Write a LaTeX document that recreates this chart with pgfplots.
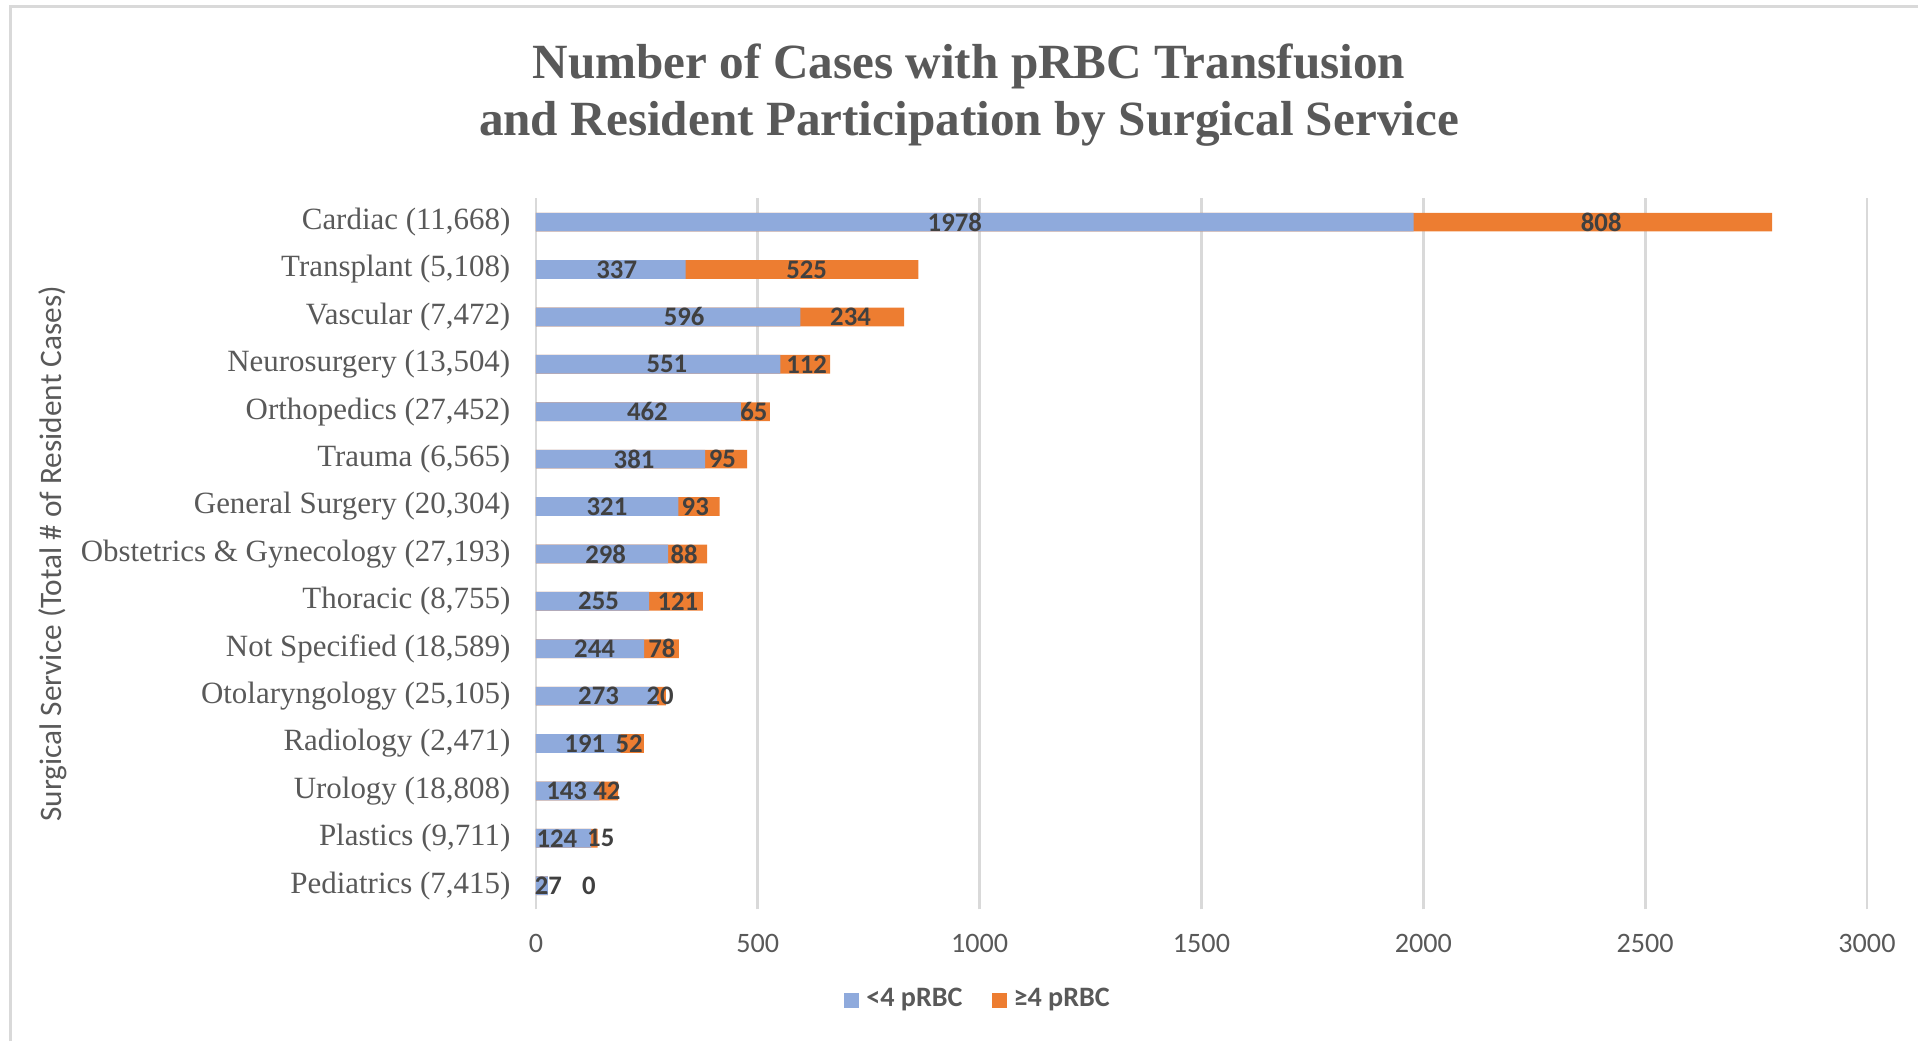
\documentclass[border=0pt]{standalone}
\usepackage{pgfplots}
\pgfplotsset{compat=1.18}
\usepackage{pgfplotstable}
\usepackage{fontspec}
\setmainfont{Liberation Serif}
\newfontfamily\carlito{Carlito}
\definecolor{barblue}{HTML}{8FAADC}
\definecolor{barorange}{HTML}{ED7D31}
\definecolor{txt}{HTML}{595959}
\definecolor{lbl}{HTML}{404040}
\definecolor{gridc}{HTML}{D9D9D9}

% y: category index (0 = bottom), a: <4 pRBC, b: >=4 pRBC, la/lb: label positions
\pgfplotstableread{
y a b la lb
0 27 0 28 119
1 124 15 47 146
2 143 42 69 160
3 191 52 110 210
4 273 20 141 280
5 244 78 132 284
6 255 121 141 320
7 298 88 157 334
8 321 93 160 359
9 381 95 221 420
10 462 65 251 491
11 551 112 295 610
12 596 234 334 709
13 337 525 182 610
14 1978 808 944 2401
}\data

\begin{document}
\begin{tikzpicture}
\path[use as bounding box] (0,0) rectangle (191.8mm,104.1mm);
\draw[gridc, line width=0.3mm] (1.05mm,0) -- (1.05mm,103.45mm) -- (191.8mm,103.45mm);
\begin{axis}[
  at={(53.6mm,13.16mm)}, anchor=south west,
  scale only axis, width=133.1mm, height=71.1mm,
  xmin=0, xmax=3000, ymin=-0.5, ymax=14.5,
  xtick={0,500,...,3000},
  ytick={0,...,14},
  yticklabels={{Pediatrics (7,415)},{Plastics (9,711)},{Urology (18,808)},{Radiology (2,471)},{Otolaryngology (25,105)},{Not Specified (18,589)},{Thoracic (8,755)},{Obstetrics \& Gynecology (27,193)},{General Surgery (20,304)},{Trauma (6,565)},{Orthopedics (27,452)},{Neurosurgery (13,504)},{Vascular (7,472)},{Transplant (5,108)},{Cardiac (11,668)}},
  axis line style={draw=none},
  major tick length=0pt,
  xmajorgrids, major grid style={gridc, line width=0.27mm},
  scaled x ticks=false,
  /pgf/number format/assume math mode=true,
  /pgf/number format/1000 sep={},
  tick label style={text=txt},
  xticklabel style={font=\carlito\fontsize{8}{9.6}\selectfont, anchor=center, inner sep=0pt, yshift=-3.36mm},
  yticklabel style={font=\fontsize{8.8}{10}\selectfont, anchor=east, inner sep=0pt, xshift=-2.5mm},
  every axis y label/.style={at={(rel axis cs:-0.3632,0.5)}, rotate=90, anchor=center},
  ylabel={Surgical Service (Total \# of Resident Cases)},
  ylabel style={font=\carlito\fontsize{8.9}{10}\selectfont, text=txt},
  legend style={at={(rel axis cs:0.334,-0.128)}, anchor=center, draw=none, fill=none,
    legend columns=2, font=\carlito\bfseries\fontsize{8}{9.6}\selectfont, text=txt,
    /tikz/every even column/.append style={column sep=2.2mm}},
  legend image code/.code={\fill[#1, draw=none] (0mm,-0.75mm) rectangle (1.5mm,0.75mm);},
]
\addplot[xbar, bar width=1.87mm, bar shift=0pt, fill=barorange, draw=none, forget plot]
  table[x expr=\thisrow{a}+\thisrow{b}, y=y]{\data};
\addplot[xbar, bar width=1.87mm, bar shift=0pt, fill=barblue, draw=none, forget plot]
  table[x=a, y=y]{\data};
\addplot[draw=none, mark=none, forget plot, nodes near coords, point meta=explicit symbolic,
  every node near coord/.append style={anchor=center, inner sep=0pt, font=\carlito\bfseries\fontsize{7.6}{8}\selectfont, text=lbl}]
  table[x=la, y=y, meta=a]{\data};
\addplot[draw=none, mark=none, forget plot, nodes near coords, point meta=explicit symbolic,
  every node near coord/.append style={anchor=center, inner sep=0pt, font=\carlito\bfseries\fontsize{7.6}{8}\selectfont, text=lbl}]
  table[x=lb, y=y, meta=b]{\data};
\addlegendimage{fill=barblue, draw=none}
\addlegendentry{<4 pRBC}
\addlegendimage{fill=barorange, draw=none}
\addlegendentry{≥4 pRBC}
\end{axis}
\node[anchor=base, font=\bfseries\fontsize{14}{16}\selectfont, text=txt] at (96.9mm,96.26mm) {Number of Cases with pRBC Transfusion};
\node[anchor=base, font=\bfseries\fontsize{14}{16}\selectfont, text=txt] at (96.9mm,90.56mm) {and Resident Participation by Surgical Service};
\end{tikzpicture}
\end{document}
